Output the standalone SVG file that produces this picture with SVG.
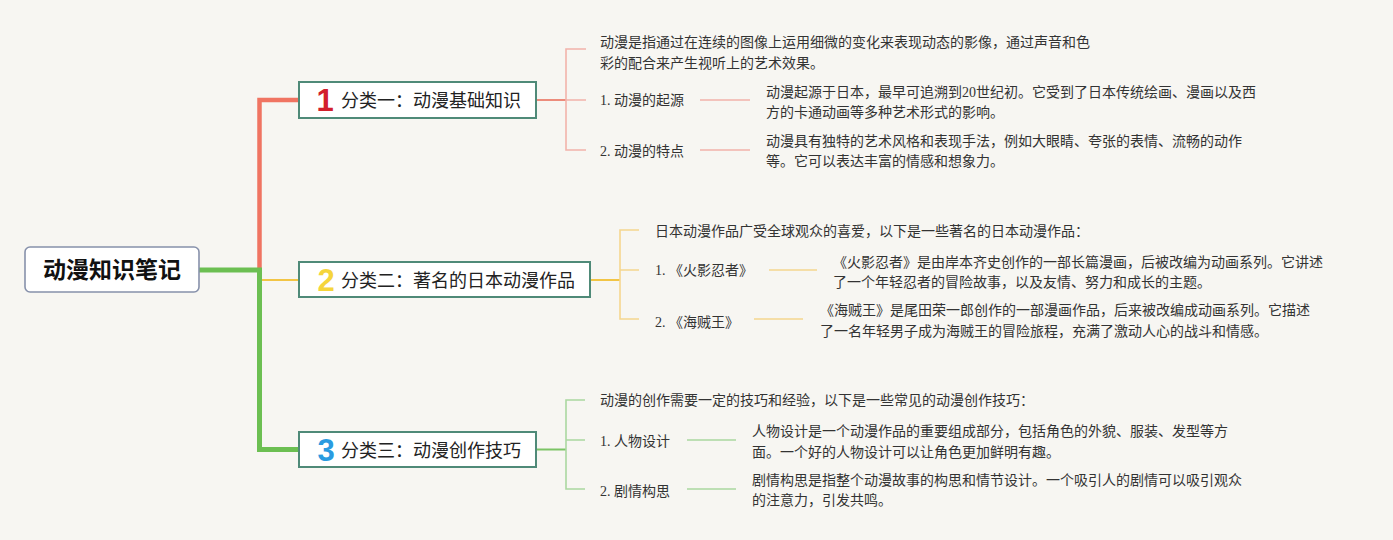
<svg xmlns="http://www.w3.org/2000/svg" width="1393" height="540" viewBox="0 0 1393 540">
<style>
.bg{fill:#f7f6f2}
.root{fill:#ffffff;stroke:#8791ab;stroke-width:1.6}
.cat{fill:#ffffff;stroke:#4f8a78;stroke-width:2}
.rt{font-family:"Noto Sans CJK SC","Noto Sans CJK JP",sans-serif;font-size:23px;font-weight:bold;fill:#111}
.ct{font-family:"Noto Sans CJK SC","Noto Sans CJK JP",sans-serif;font-size:18px;fill:#222}
.num{font-family:"Liberation Sans","Noto Sans",sans-serif;font-size:31px;font-weight:bold;text-anchor:middle}
.t{font-family:"Liberation Serif","Noto Sans CJK SC",serif;font-size:14px;fill:#333}
.ln{fill:none;stroke-linejoin:miter}
</style>
<rect class="bg" x="0" y="0" width="1393" height="540"/>
<g id="connectors">
  <path class="ln" d="M259.5,268 V100 H299" stroke="#f07462" stroke-width="4.5"/>
  <path class="ln" d="M262,280 H299" stroke="#f2c545" stroke-width="2"/>
  <path class="ln" d="M199,270 H259.5 V449.5 H299" stroke="#6cbf52" stroke-width="5"/>
  <path class="ln" d="M536,100 H566" stroke="#ec8c7c" stroke-width="2"/>
  <path class="ln" d="M586,49 H566 V150 H586 M566,100 H586" stroke="#f2b3aa" stroke-width="1.6"/>
  <path class="ln" d="M700,100 H750 M700,150 H750" stroke="#f2b3aa" stroke-width="1.6"/>
  <path class="ln" d="M590,280 H620" stroke="#f2c545" stroke-width="2"/>
  <path class="ln" d="M639,230 H620 V319 H639 M620,270 H639" stroke="#f5d68e" stroke-width="1.6"/>
  <path class="ln" d="M769,270 H817 M754,319 H803" stroke="#f5d68e" stroke-width="1.6"/>
  <path class="ln" d="M536,449.5 H566" stroke="#7cc466" stroke-width="2"/>
  <path class="ln" d="M585,400 H566 V489 H585 M566,440 H585" stroke="#aad8a0" stroke-width="1.6"/>
  <path class="ln" d="M687,440 H736 M687,489 H736" stroke="#aad8a0" stroke-width="1.6"/>
</g>
<g id="root">
  <rect class="root" x="25" y="247" width="174" height="45" rx="5"/>
  <text class="rt" x="112" y="278" text-anchor="middle">动漫知识笔记</text>
</g>
<g id="cat1">
  <rect class="cat" x="299" y="82" width="237" height="36"/>
  <text class="num" x="325" y="111" fill="#d2202c">1</text>
  <text class="ct" x="341" y="107">分类一：动漫基础知识</text>
</g>
<g id="cat2">
  <rect class="cat" x="299" y="262" width="291" height="35"/>
  <text class="num" x="326" y="291" fill="#f5d53c">2</text>
  <text class="ct" x="341" y="287">分类二：著名的日本动漫作品</text>
</g>
<g id="cat3">
  <rect class="cat" x="299" y="432" width="237" height="35"/>
  <text class="num" x="326" y="461" fill="#2a9be0">3</text>
  <text class="ct" x="341" y="457">分类三：动漫创作技巧</text>
</g>
<g id="c1-intro">
  <text class="t" x="600" y="47">动漫是指通过在连续的图像上运用细微的变化来表现动态的影像，通过声音和色</text>
  <text class="t" x="600" y="68">彩的配合来产生视听上的艺术效果。</text>
</g>
<g id="c1-origin">
  <text class="t" x="600" y="105">1. 动漫的起源</text>
</g>
<g id="c1-origin-desc">
  <text class="t" x="766" y="97">动漫起源于日本，最早可追溯到20世纪初。它受到了日本传统绘画、漫画以及西</text>
  <text class="t" x="766" y="117">方的卡通动画等多种艺术形式的影响。</text>
</g>
<g id="c1-feature">
  <text class="t" x="600" y="156">2. 动漫的特点</text>
</g>
<g id="c1-feature-desc">
  <text class="t" x="766" y="146">动漫具有独特的艺术风格和表现手法，例如大眼睛、夸张的表情、流畅的动作</text>
  <text class="t" x="766" y="166">等。它可以表达丰富的情感和想象力。</text>
</g>
<g id="c2-intro">
  <text class="t" x="655" y="236">日本动漫作品广受全球观众的喜爱，以下是一些著名的日本动漫作品：</text>
</g>
<g id="c2-naruto">
  <text class="t" x="655" y="275">1. 《火影忍者》</text>
</g>
<g id="c2-naruto-desc">
  <text class="t" x="833" y="267">《火影忍者》是由岸本齐史创作的一部长篇漫画，后被改编为动画系列。它讲述</text>
  <text class="t" x="833" y="287">了一个年轻忍者的冒险故事，以及友情、努力和成长的主题。</text>
</g>
<g id="c2-onepiece">
  <text class="t" x="655" y="327">2. 《海贼王》</text>
</g>
<g id="c2-onepiece-desc">
  <text class="t" x="820" y="315">《海贼王》是尾田荣一郎创作的一部漫画作品，后来被改编成动画系列。它描述</text>
  <text class="t" x="820" y="336">了一名年轻男子成为海贼王的冒险旅程，充满了激动人心的战斗和情感。</text>
</g>
<g id="c3-intro">
  <text class="t" x="600" y="405">动漫的创作需要一定的技巧和经验，以下是一些常见的动漫创作技巧：</text>
</g>
<g id="c3-character">
  <text class="t" x="600" y="446">1. 人物设计</text>
</g>
<g id="c3-character-desc">
  <text class="t" x="752" y="436">人物设计是一个动漫作品的重要组成部分，包括角色的外貌、服装、发型等方</text>
  <text class="t" x="752" y="457">面。一个好的人物设计可以让角色更加鲜明有趣。</text>
</g>
<g id="c3-plot">
  <text class="t" x="600" y="496">2. 剧情构思</text>
</g>
<g id="c3-plot-desc">
  <text class="t" x="752" y="485">剧情构思是指整个动漫故事的构思和情节设计。一个吸引人的剧情可以吸引观众</text>
  <text class="t" x="752" y="505">的注意力，引发共鸣。</text>
</g>
</svg>
